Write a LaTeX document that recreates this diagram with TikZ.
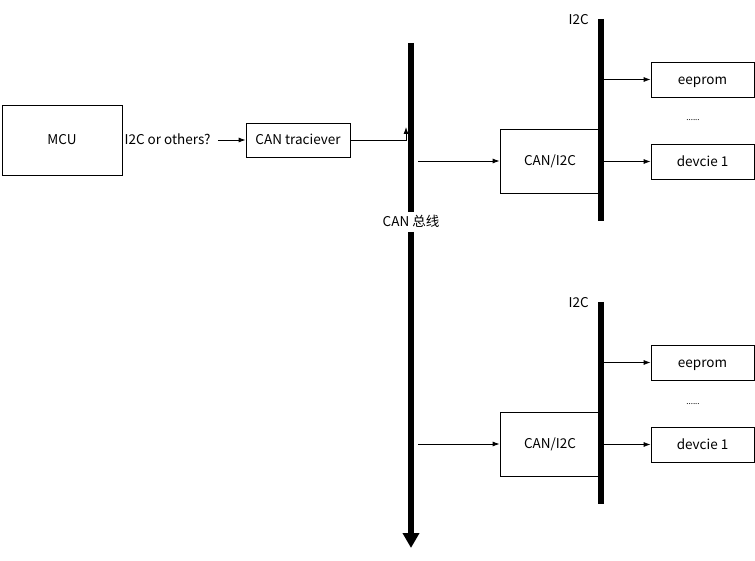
\documentclass[tikz,border=0pt]{standalone}
\usepackage{fontspec}
\setmainfont{Noto Sans CJK SC}
\usetikzlibrary{arrows.meta}
\tikzset{
  box/.style={draw,line width=.8pt,inner sep=0pt,text height=9.6pt,text depth=0pt,font=\fontsize{13.5}{15}\selectfont},
  txt/.style={inner sep=0pt,text height=9.6pt,text depth=0pt,font=\fontsize{13.5}{15}\selectfont},
  bus/.style={line width=6pt},
  link/.style={line width=.8pt,-{Latex[length=7pt,width=5pt]}}
}
\begin{document}
\begin{tikzpicture}[x=1pt,y=-1pt]
  \useasboundingbox (0,0) rectangle (755,561);
  \node[box,minimum width=120pt,minimum height=70pt] (mcu) at (62,140) {MCU};
  \node[txt,anchor=west] (proto) at ([xshift=2pt]mcu.east) {I2C or others?};
  \node[box,minimum width=104pt,minimum height=34pt] (trans) at (298,140) {CAN traciever};
  \node[txt,inner ysep=5pt] (canbus) at (411,222) {CAN 总线};
  \coordinate (cantop) at (411,43);
  \coordinate (canend) at (411,548);
  \coordinate (join) at (406,127);
  \draw[link] ([xshift=7pt]proto.east) -- (trans.west);
  \draw[link] (trans.east) -| (join);
  \draw[bus] (cantop) -- (canbus.north);
  \draw[bus,-{Triangle[length=15pt,width=16pt]}] (canbus.south) -- (canend);
  \foreach \i/\dy in {1/0,2/283}{
    \node[box,minimum width=100pt,minimum height=64pt] (conv\i) at (550,161+\dy) {CAN/I2C};
    \node[box,minimum width=103pt,minimum height=35pt] (ee\i) at (702.5,79.5+\dy) {eeprom};
    \node[box,minimum width=103pt,minimum height=35pt] (dev\i) at (702.5,161.5+\dy) {devcie 1};
    \node[txt,text height=2pt,font=\fontsize{8}{8}\selectfont] (dots\i) at (693,120+\dy) {......};
    \node[txt,anchor=east] (i2c\i) at (589,20+\dy) {I2C};
    \coordinate (i2ctop\i) at (601,19+\dy);
    \coordinate (i2cbot\i) at (601,221+\dy);
    \coordinate (tap\i) at (418,161+\dy);
    \draw[link] (tap\i) -- (conv\i.west);
    \draw[link] (i2ctop\i |- ee\i.west) -- (ee\i.west);
    \draw[link] (i2ctop\i |- dev\i.west) -- (dev\i.west);
    \draw[bus] (i2ctop\i) -- (i2cbot\i);
  }
\end{tikzpicture}
\end{document}
